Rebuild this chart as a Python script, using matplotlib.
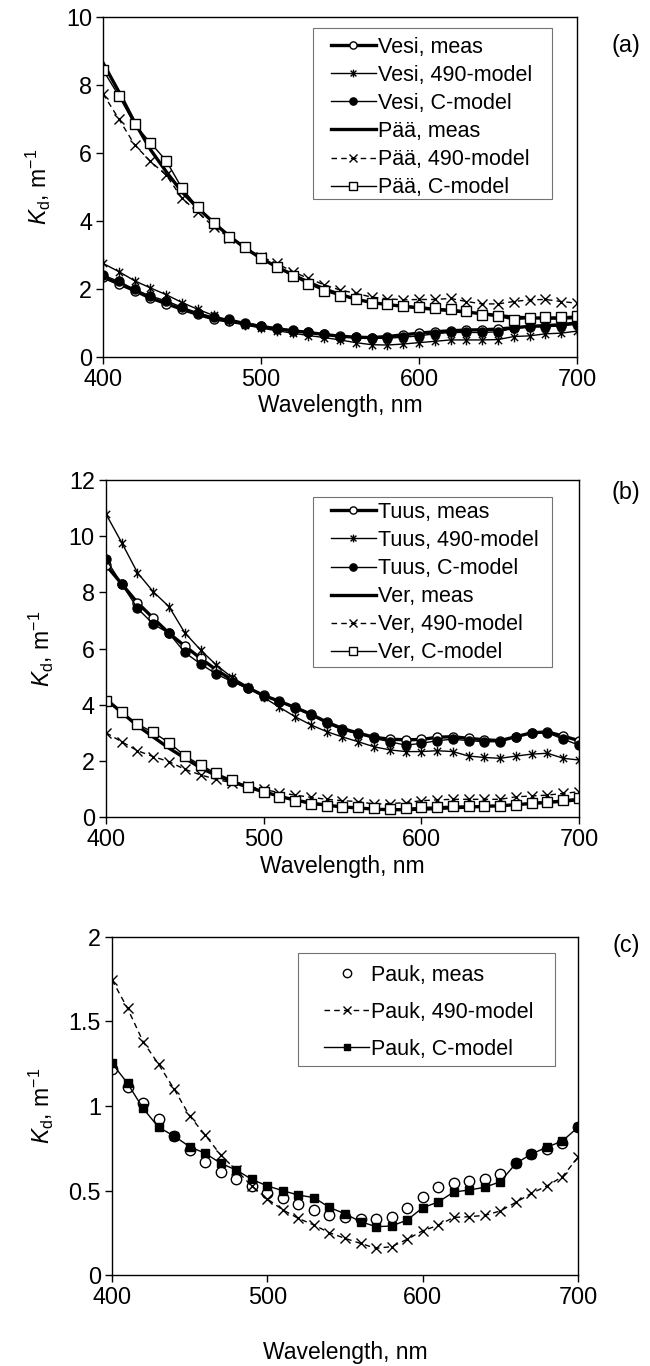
import matplotlib
matplotlib.use("Agg")
import matplotlib.pyplot as plt
from matplotlib.patches import Rectangle
from matplotlib.path import Path

plt.rcParams["font.family"] = ["Liberation Sans", "DejaVu Sans"]
plt.rcParams["mathtext.fontset"] = "custom"
plt.rcParams["mathtext.rm"] = "Liberation Sans"
plt.rcParams["mathtext.it"] = "Liberation Sans:italic"

# wavelength grid, nm
wl = [400, 410, 420, 430, 440, 450, 460, 470, 480, 490, 500, 510, 520, 530, 540, 550,
      560, 570, 580, 590, 600, 610, 620, 630, 640, 650, 660, 670, 680, 690, 700]

# (a) Vesi / Pää
vesi_meas = [2.35, 2.15, 1.95, 1.73, 1.57, 1.40, 1.25, 1.12, 1.05, 0.97, 0.90, 0.83, 0.77, 0.72, 0.66, 0.61,
             0.58, 0.57, 0.60, 0.65, 0.70, 0.74, 0.77, 0.79, 0.80, 0.82, 0.86, 0.90, 0.92, 0.95, 1.00]
vesi_490 = [2.75, 2.51, 2.24, 2.03, 1.83, 1.60, 1.40, 1.22, 1.06, 0.94, 0.85, 0.77, 0.70, 0.63, 0.57, 0.50,
            0.42, 0.36, 0.35, 0.38, 0.42, 0.46, 0.50, 0.50, 0.50, 0.51, 0.60, 0.62, 0.68, 0.70, 0.76]
vesi_c = [2.41, 2.22, 1.99, 1.79, 1.65, 1.46, 1.30, 1.17, 1.11, 1.01, 0.92, 0.84, 0.79, 0.74, 0.67, 0.60,
          0.58, 0.55, 0.55, 0.58, 0.62, 0.68, 0.72, 0.72, 0.72, 0.74, 0.84, 0.89, 0.89, 0.91, 0.97]
paa_meas = [8.65, 7.80, 6.90, 6.10, 5.45, 4.85, 4.38, 3.95, 3.55, 3.20, 2.90, 2.65, 2.42, 2.20, 2.00, 1.84,
            1.70, 1.60, 1.54, 1.49, 1.44, 1.40, 1.36, 1.32, 1.27, 1.22, 1.17, 1.15, 1.14, 1.14, 1.16]
paa_490 = [7.74, 7.00, 6.24, 5.75, 5.35, 4.67, 4.25, 3.83, 3.51, 3.24, 2.95, 2.75, 2.51, 2.31, 2.12, 1.97,
           1.87, 1.76, 1.71, 1.68, 1.69, 1.69, 1.72, 1.63, 1.56, 1.56, 1.63, 1.68, 1.69, 1.63, 1.58]
paa_c = [8.44, 7.68, 6.84, 6.30, 5.77, 4.96, 4.40, 3.93, 3.54, 3.24, 2.90, 2.64, 2.38, 2.15, 1.94, 1.80,
         1.70, 1.60, 1.56, 1.50, 1.48, 1.43, 1.40, 1.35, 1.24, 1.19, 1.09, 1.14, 1.17, 1.17, 1.21]

# (b) Tuus / Ver
tuus_meas = [8.97, 8.30, 7.63, 7.08, 6.54, 6.09, 5.65, 5.24, 4.88, 4.60, 4.33, 4.12, 3.90, 3.66, 3.38, 3.15,
             2.99, 2.84, 2.77, 2.75, 2.76, 2.84, 2.86, 2.80, 2.75, 2.72, 2.86, 3.00, 3.03, 2.88, 2.72]
tuus_490 = [10.79, 9.77, 8.70, 8.02, 7.49, 6.56, 5.95, 5.41, 4.97, 4.64, 4.26, 3.91, 3.57, 3.28, 3.04, 2.85,
            2.68, 2.50, 2.39, 2.33, 2.33, 2.36, 2.33, 2.17, 2.12, 2.09, 2.17, 2.24, 2.27, 2.09, 2.03]
tuus_c = [9.18, 8.30, 7.43, 6.87, 6.54, 5.86, 5.45, 5.09, 4.82, 4.58, 4.31, 4.11, 3.87, 3.63, 3.34, 3.10,
          2.96, 2.80, 2.68, 2.56, 2.62, 2.72, 2.77, 2.72, 2.68, 2.68, 2.86, 3.00, 3.00, 2.77, 2.56]
ver_meas = [4.20, 3.72, 3.25, 2.85, 2.45, 2.10, 1.75, 1.48, 1.26, 1.06, 0.90, 0.74, 0.60, 0.50, 0.42, 0.36,
            0.32, 0.28, 0.26, 0.26, 0.28, 0.30, 0.33, 0.35, 0.38, 0.40, 0.44, 0.48, 0.52, 0.56, 0.62]
ver_490 = [3.00, 2.68, 2.36, 2.15, 1.97, 1.70, 1.50, 1.34, 1.22, 1.10, 0.98, 0.87, 0.78, 0.70, 0.63, 0.58,
           0.55, 0.46, 0.48, 0.51, 0.58, 0.61, 0.63, 0.63, 0.63, 0.63, 0.72, 0.75, 0.78, 0.84, 0.90]
ver_c = [4.13, 3.73, 3.31, 3.01, 2.65, 2.18, 1.85, 1.55, 1.32, 1.08, 0.90, 0.72, 0.58, 0.46, 0.39, 0.36,
         0.34, 0.31, 0.27, 0.31, 0.34, 0.36, 0.39, 0.39, 0.39, 0.39, 0.43, 0.51, 0.55, 0.61, 0.66]

# (c) Pauk
pauk_meas = [1.217, 1.114, 1.02, 0.921, 0.822, 0.74, 0.67, 0.611, 0.566, 0.527, 0.487, 0.454, 0.42, 0.385,
             0.357, 0.343, 0.33, 0.33, 0.345, 0.395, 0.463, 0.523, 0.543, 0.558, 0.57, 0.598, 0.66, 0.716,
             0.744, 0.779, 0.874]
pauk_490 = [1.746, 1.578, 1.381, 1.247, 1.10, 0.941, 0.828, 0.71, 0.62, 0.527, 0.45, 0.385, 0.335, 0.296,
            0.25, 0.217, 0.187, 0.158, 0.168, 0.211, 0.262, 0.294, 0.341, 0.345, 0.353, 0.379, 0.43, 0.483,
            0.527, 0.582, 0.696]
pauk_c = [1.253, 1.134, 0.986, 0.874, 0.822, 0.759, 0.72, 0.661, 0.621, 0.566, 0.527, 0.499, 0.473, 0.458,
          0.40, 0.362, 0.316, 0.286, 0.29, 0.325, 0.398, 0.432, 0.491, 0.503, 0.519, 0.552, 0.66, 0.716,
          0.756, 0.793, 0.874]

# asterisk marker: vertical bar + x
AST = Path([(0, -1), (0, 1), (-0.75, -0.75), (0.75, 0.75), (-0.75, 0.75), (0.75, -0.75)],
           [Path.MOVETO, Path.LINETO, Path.MOVETO, Path.LINETO, Path.MOVETO, Path.LINETO])

FS = 15.5      # legend
TFS = 16.8     # tick labels
LFS = 16.5     # axis labels
K = dict(color="black")
STY = {
    "meas_pt": dict(lw=2.4, marker="o", ms=6.5, mfc="white", mec="black", mew=1.0, **K),
    "490_pt": dict(lw=1.0, marker=AST, ms=7, mew=1.0, **K),
    "c_pt": dict(lw=1.0, marker="o", ms=6.5, mfc="black", mec="black", **K),
    "meas_ln": dict(lw=2.4, **K),
    "490_ln": dict(lw=1.0, ls=(0, (4, 3)), marker="x", ms=7, mew=1.0, **K),
    "c_sq": dict(lw=1.0, marker="s", ms=6.5, mfc="white", mec="black", mew=1.0, **K),
}

fig = plt.figure(figsize=(6.5, 13.66), dpi=100)

rects = [
    [0.1585, 0.7387, 0.7292, 0.2489],
    [0.1630, 0.4019, 0.7278, 0.2467],
    [0.1723, 0.0666, 0.7169, 0.2475],
]


def style_axes(ax, ymax, ystep, labels=None, xpad=4):
    ax.set_xlim(400, 700)
    ax.set_ylim(0, ymax)
    ax.set_xticks([400, 500, 600, 700])
    yt = [i * ystep for i in range(int(round(ymax / ystep)) + 1)]
    ax.set_yticks(yt)
    if labels is not None:
        ax.set_yticklabels(labels)
    ax.tick_params(direction="out", length=5, width=1, labelsize=TFS, pad=3, top=False, right=False)
    ax.set_xlabel("Wavelength, nm", fontsize=LFS, labelpad=xpad)
    ax.set_ylabel(r"$K_{\rm d}$, m$^{-1}$", fontsize=LFS, labelpad=9)
    for s in ax.spines.values():
        s.set_linewidth(1.0)


def legend(ax, spacing, anchor, box):
    # box: x0, y0, x1, y1 in axes fraction
    x0, y0, x1, y1 = box
    ax.add_patch(Rectangle((x0, y0), x1 - x0, y1 - y0, transform=ax.transAxes, facecolor="white",
                           edgecolor="0.45", lw=0.8, zorder=5))
    lg = ax.legend(loc="upper left", bbox_to_anchor=anchor, fontsize=FS, frameon=False,
                   handlelength=2.1, handletextpad=0.1, labelspacing=spacing, borderpad=0,
                   borderaxespad=0, markerscale=0.8)
    lg.set_zorder(6)


# ---- (a) ----
ax = fig.add_axes(rects[0])
ax.plot(wl, vesi_meas, label="Vesi, meas", **STY["meas_pt"])
ax.plot(wl, vesi_490, label="Vesi, 490-model", **STY["490_pt"])
ax.plot(wl, vesi_c, label="Vesi, C-model", **STY["c_pt"])
ax.plot(wl, paa_meas, label="Pää, meas", **STY["meas_ln"])
ax.plot(wl, paa_490, label="Pää, 490-model", **STY["490_ln"])
ax.plot(wl, paa_c, label="Pää, C-model", **STY["c_sq"])
style_axes(ax, 10, 2, xpad=2)
legend(ax, 0.33, (0.480, 0.942), (0.443, 0.465, 0.947, 0.968))
fig.text(0.985, 0.967, "(a)", fontsize=TFS, ha="right", va="center")

# ---- (b) ----
ax = fig.add_axes(rects[1])
ax.plot(wl, tuus_meas, label="Tuus, meas", **STY["meas_pt"])
ax.plot(wl, tuus_490, label="Tuus, 490-model", **STY["490_pt"])
ax.plot(wl, tuus_c, label="Tuus, C-model", **STY["c_pt"])
ax.plot(wl, ver_meas, label="Ver, meas", **STY["meas_ln"])
ax.plot(wl, ver_490, label="Ver, 490-model", **STY["490_ln"])
ax.plot(wl, ver_c, label="Ver, C-model", **STY["c_sq"])
style_axes(ax, 12, 2, xpad=3)
legend(ax, 0.33, (0.475, 0.935), (0.4376, 0.445, 0.943, 0.9496))
fig.text(0.985, 0.6395, "(b)", fontsize=TFS, ha="right", va="center")

# ---- (c) ----
ax = fig.add_axes(rects[2])
ax.plot(wl, pauk_meas, ls="none", marker="o", ms=7.5, mfc="white", mec="black", mew=1.0,
        label="Pauk, meas")
ax.plot(wl, pauk_490, label="Pauk, 490-model", **STY["490_ln"])
ax.plot(wl, pauk_c, label="Pauk, C-model", lw=1.0, marker="s", ms=6, mfc="black", mec="black", color="black")
style_axes(ax, 2, 0.5, labels=["0", "0.5", "1", "1.5", "2"], xpad=23)
legend(ax, 0.75, (0.455, 0.918), (0.399, 0.618, 0.951, 0.953))
fig.text(0.985, 0.3075, "(c)", fontsize=TFS, ha="right", va="center")

fig.savefig("out.png", dpi=100)
